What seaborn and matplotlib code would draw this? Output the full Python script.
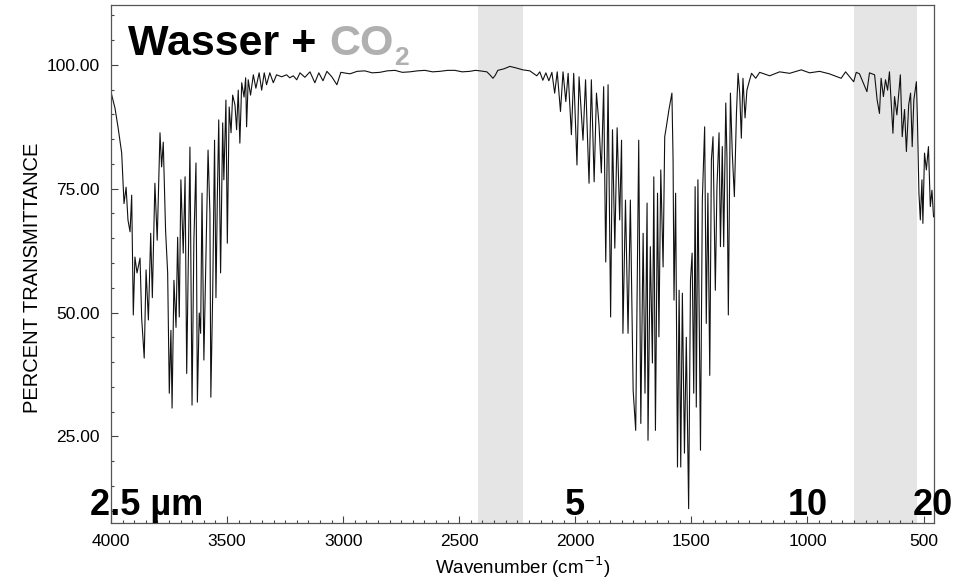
import pandas as pd
import seaborn as sns
import matplotlib.pyplot as plt
from matplotlib.ticker import MultipleLocator, FormatStrFormatter

# IR spectrum of air (water + CO2)
wavenumber = [
    4000, 3983, 3970, 3954, 3944, 3935, 3927, 3918, 3911, 3904, 3897, 3888,
    3875, 3868, 3857, 3849, 3839, 3829, 3822, 3811, 3801, 3789, 3782, 3775,
    3765, 3756, 3749, 3742, 3737, 3729, 3720, 3713, 3706, 3699, 3689, 3681,
    3674, 3667, 3660, 3651, 3643, 3634, 3628, 3620, 3614, 3608, 3600, 3591,
    3582, 3574, 3570, 3562, 3554, 3548, 3542, 3536, 3528, 3519, 3514, 3505,
    3499, 3491, 3483, 3476, 3466, 3459, 3452, 3445, 3437, 3427, 3420, 3416,
    3409, 3399, 3387, 3376, 3362, 3351, 3340, 3330, 3316, 3301, 3287, 3265,
    3244, 3230, 3215, 3200, 3186, 3165, 3143, 3122, 3105, 3087, 3070, 3049,
    3027, 3010, 2971, 2940, 2907, 2875, 2842, 2810, 2777, 2745, 2713, 2680,
    2648, 2615, 2584, 2550, 2519, 2487, 2455, 2430, 2411, 2381, 2368, 2355,
    2345, 2334, 2308, 2282, 2256, 2226, 2196, 2166, 2153, 2140, 2127, 2114,
    2101, 2089, 2078, 2064, 2053, 2041, 2031, 2017, 2007, 1993, 1984, 1967,
    1956, 1941, 1931, 1919, 1909, 1898, 1888, 1878, 1869, 1859, 1848, 1840,
    1830, 1820, 1809, 1801, 1795, 1784, 1773, 1763, 1751, 1740, 1727, 1718,
    1708, 1700, 1691, 1687, 1677, 1668, 1662, 1655, 1646, 1640, 1632, 1622,
    1615, 1608, 1597, 1584, 1579, 1575, 1568, 1560, 1553, 1546, 1539, 1530,
    1522, 1512, 1504, 1497, 1490, 1484, 1479, 1472, 1461, 1453, 1443, 1436,
    1429, 1421, 1414, 1407, 1397, 1390, 1381, 1375, 1367, 1361, 1352, 1347,
    1341, 1332, 1324, 1315, 1306, 1299, 1292, 1285, 1278, 1269, 1261, 1249,
    1241, 1223, 1206, 1163, 1120, 1077, 1027, 991, 948, 906, 855, 836,
    801, 790, 776, 744, 733, 711, 700, 690, 683, 673, 664, 655,
    647, 632, 625, 615, 600, 592, 582, 574, 564, 556, 549, 542,
    531, 527, 520, 514, 507, 503, 496, 488, 479, 471, 464, 457,
]
transmittance = [
    94.5, 91.3, 87.5, 82.2, 72.0, 75.3, 68.7, 66.3, 73.7, 49.5, 61.2, 58.0,
    61.0, 48.9, 40.8, 58.6, 48.5, 66.0, 53.0, 76.1, 64.6, 86.3, 79.4, 84.4,
    66.6, 58.0, 33.7, 46.4, 30.7, 56.5, 47.0, 65.2, 49.1, 76.8, 62.0, 77.4,
    37.7, 61.2, 83.4, 31.3, 64.6, 80.2, 31.9, 49.9, 45.8, 74.1, 40.4, 61.2,
    82.8, 70.1, 32.9, 53.9, 84.8, 53.0, 73.3, 88.9, 58.0, 88.3, 76.8, 92.9,
    64.0, 91.5, 86.3, 93.9, 91.9, 86.9, 94.9, 84.2, 96.4, 93.5, 97.4, 87.5,
    97.0, 93.9, 98.0, 95.3, 98.4, 94.9, 98.4, 96.0, 98.4, 96.4, 98.0, 97.6,
    98.0, 97.4, 97.8, 97.0, 98.4, 97.5, 98.6, 96.4, 98.4, 96.8, 98.7, 97.6,
    96.0, 98.5, 98.2, 98.7, 98.8, 98.4, 98.5, 98.8, 98.9, 98.5, 98.6, 98.8,
    98.9, 98.6, 98.7, 98.9, 98.9, 98.6, 98.7, 98.9, 98.8, 98.6, 98.0, 97.3,
    97.9, 98.9, 99.2, 99.7, 99.4, 99.0, 98.8, 97.8, 98.6, 96.9, 98.4, 96.8,
    98.5, 94.3, 98.6, 90.6, 98.6, 92.6, 98.3, 85.9, 98.3, 79.8, 97.6, 84.8,
    97.0, 76.1, 97.0, 76.4, 94.3, 87.9, 78.2, 95.6, 60.2, 96.0, 49.1, 86.9,
    63.0, 87.3, 68.7, 84.8, 45.8, 72.7, 45.8, 72.7, 34.3, 26.2, 84.8, 27.6,
    66.0, 33.7, 72.1, 24.2, 63.3, 39.8, 77.4, 26.2, 74.1, 45.1, 78.8, 59.2,
    85.5, 87.5, 90.9, 94.3, 80.8, 52.5, 74.1, 18.8, 54.5, 18.8, 53.9, 21.6,
    45.0, 10.4, 56.5, 62.0, 33.7, 75.4, 30.9, 76.8, 22.2, 72.7, 87.5, 47.8,
    74.1, 37.3, 80.8, 85.5, 54.5, 75.4, 86.3, 63.3, 83.5, 63.3, 92.3, 81.5,
    49.5, 94.3, 82.2, 73.4, 90.3, 98.3, 94.3, 85.2, 97.3, 89.3, 94.9, 97.0,
    98.3, 97.3, 98.5, 97.8, 98.6, 98.3, 99.0, 98.4, 98.7, 98.2, 97.3, 98.6,
    96.6, 98.5, 98.2, 94.6, 98.4, 98.0, 92.9, 90.2, 97.3, 93.6, 97.0, 94.9,
    98.6, 86.2, 93.6, 89.9, 98.0, 85.5, 91.0, 82.5, 92.0, 94.3, 83.5, 92.9,
    96.6, 90.0, 74.1, 68.7, 76.8, 68.0, 82.2, 78.8, 83.5, 71.4, 74.7, 69.3,
]

# shaded regions (wavenumber ranges)
co2_band = (2420, 2226)
far_band = (801, 530)

# wavelength markers in micrometres
micron_values = [2.5, 5, 10, 20]
micron_labels = ['2.5 µm', '5', '10', '20']

df = pd.DataFrame({'Wavenumber': wavenumber, 'Transmittance': transmittance})

sns.set_style('ticks')
plt.rcParams['font.family'] = ['Liberation Sans', 'DejaVu Sans']
plt.rcParams['text.color'] = 'black'
plt.rcParams['axes.labelcolor'] = 'black'

fig = plt.figure(figsize=(9.67, 5.8), dpi=100)
ax = fig.add_axes([0.1148, 0.0983, 0.8511, 0.8931])

for band in [co2_band, far_band]:
    ax.axvspan(band[0], band[1], color='#e5e5e5', lw=0, zorder=0)

sns.lineplot(data=df, x='Wavenumber', y='Transmittance', ax=ax,
             estimator=None, sort=False, color='#111111', lw=0.8, zorder=2)

ax.set_xlim(4000, 455)
ax.set_ylim(7.5, 112.1)

ax.xaxis.set_major_locator(MultipleLocator(500))
ax.xaxis.set_minor_locator(MultipleLocator(50))
ax.yaxis.set_major_locator(MultipleLocator(25))
ax.yaxis.set_minor_locator(MultipleLocator(5))
ax.yaxis.set_major_formatter(FormatStrFormatter('%.2f'))
ax.set_yticks([25, 50, 75, 100])

ax.tick_params(which='both', direction='in', colors='#444444',
               labelcolor='black', labelsize=12.5, width=0.8)
ax.tick_params(which='major', length=5, pad=8)
ax.tick_params(which='minor', length=2.5)
for sp in ax.spines.values():
    sp.set_color('#555555')
    sp.set_linewidth(0.9)

ax.set_xlabel('Wavenumber (cm$^{-1}$)', fontsize=13.5, labelpad=4)
ax.set_ylabel('PERCENT TRANSMITTANCE', fontsize=14.5)
ax.yaxis.set_label_coords(-0.084, 0.473)

# title inside the plot
t1 = ax.text(3927, 102, 'Wasser +', fontsize=31, fontweight='bold',
             color='black', va='baseline', ha='left')
t2 = ax.annotate('CO', xy=(1, 0), xycoords=t1, xytext=(9, 0),
                 textcoords='offset points', fontsize=31, fontweight='bold',
                 color='#b0b0b0', va='bottom', ha='left')
ax.annotate('2', xy=(1, 0), xycoords=t2, xytext=(1, -1),
            textcoords='offset points', fontsize=19, fontweight='bold',
            color='#b0b0b0', va='baseline', ha='left')

# wavelength labels along the bottom
offsets = [(-15, 0), (0, 0), (0, 0), (7, 0)]
aligns = ['left', 'center', 'center', 'center']
for um, lab, off, ha in zip(micron_values, micron_labels, offsets, aligns):
    ax.annotate(lab, xy=(10000 / um, 9.2), xytext=off,
                textcoords='offset points', fontsize=26, fontweight='bold',
                color='black', va='baseline', ha=ha,
                annotation_clip=False, zorder=3)

fig.savefig('out.png', dpi=100)
